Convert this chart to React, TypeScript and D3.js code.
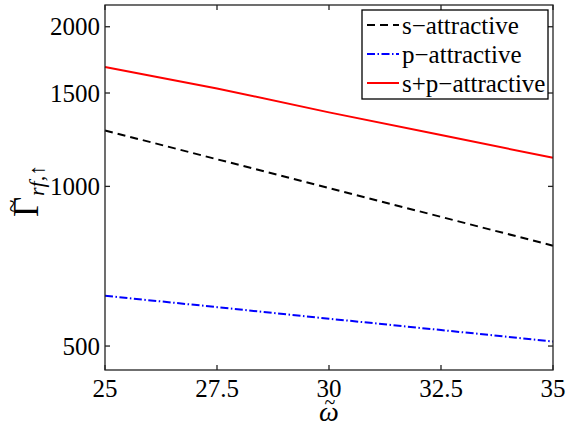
import React from 'react';
import * as d3 from 'd3';

// omega values and the three curves
const omega = [25, 27.5, 30, 32.5, 35];
const sAttractive = [1275, 1125, 993, 876, 773];
const pAttractive = [622, 592, 563, 536, 510];
const spAttractive = [1680, 1530, 1379, 1250, 1132];

const xTicks = [25, 27.5, 30, 32.5, 35];
const yTicks = [500, 1000, 1500, 2000];

const seriesNames = ['s\u2212attractive', 'p\u2212attractive', 's+p\u2212attractive'];

const width = 568;
const height = 427;
const margin = { top: 5, right: 15, bottom: 57, left: 105 };
const font = 'Liberation Serif';

const x = d3.scaleLinear().domain([25, 35]).range([margin.left, width - margin.right]);
const y = d3.scaleLog().domain([450.6, 2198]).range([height - margin.bottom, margin.top]);

const series = [
    { name: seriesNames[0], values: sAttractive, color: '#000000', dash: '8,5' },
    { name: seriesNames[1], values: pAttractive, color: '#0000ff', dash: '8,2.5,1.5,2.5' },
    { name: seriesNames[2], values: spAttractive, color: '#ff0000', dash: undefined },
];

const line = d3
    .line<number>()
    .x((_, i) => x(omega[i]))
    .y(d => y(d));

const App = () => {
    const x0 = margin.left, x1 = width - margin.right;
    const y0 = margin.top, y1 = height - margin.bottom;
    const tl = 5;
    const txt = (size: number, italic = false) => ({
        fontFamily: font,
        fontSize: `${size}px`,
        fontStyle: italic ? 'italic' : 'normal',
    });

    return (
        <svg width={width} height={height} style={{ position: 'absolute', left: 0, top: 0 }}>
            <rect x={0} y={0} width={width} height={height} fill="white" />

            {series.map(s => (
                <path
                    key={s.name}
                    d={line(s.values) || ''}
                    fill="none"
                    stroke={s.color}
                    strokeWidth={2}
                    strokeDasharray={s.dash}
                />
            ))}

            {/* box with inward ticks */}
            <g stroke="#222" strokeWidth={1.3}>
                <rect x={x0} y={y0} width={x1 - x0} height={y1 - y0} fill="none" />
                {xTicks.map(t => (
                    <g key={'xt' + t}>
                        <line x1={x(t)} x2={x(t)} y1={y1} y2={y1 - tl} />
                        <line x1={x(t)} x2={x(t)} y1={y0} y2={y0 + tl} />
                    </g>
                ))}
                {yTicks.map(t => (
                    <g key={'yt' + t}>
                        <line x1={x0} x2={x0 + tl} y1={y(t)} y2={y(t)} />
                        <line x1={x1} x2={x1 - tl} y1={y(t)} y2={y(t)} />
                    </g>
                ))}
            </g>

            {xTicks.map(t => (
                <text key={'xl' + t} x={x(t)} y={y1 + 27} textAnchor="middle" style={txt(25)}>
                    {String(t)}
                </text>
            ))}
            {yTicks.map(t => (
                <text key={'yl' + t} x={x0 - 5} y={y(t) + 8.5} textAnchor="end" style={txt(25)}>
                    {String(t)}
                </text>
            ))}

            {/* x label: omega tilde */}
            <g transform={`translate(${(x0 + x1) / 2},421)`}>
                <text textAnchor="middle" style={txt(28, true)}>{'\u03c9'}</text>
                <text x={1} y={-12} textAnchor="middle" style={txt(20)}>~</text>
            </g>

            {/* y label: Gamma tilde, subscript rf,up */}
            <g transform="translate(38,217) rotate(-90)">
                <text style={txt(35)}>{'\u0393'}</text>
                <text x={11} y={-18} textAnchor="middle" style={txt(24)}>~</text>
                <text x={21} y={6} style={txt(22, true)}>{'rf,\u2191'}</text>
            </g>

            {/* legend */}
            <rect x={362} y={10} width={186} height={89} fill="white" stroke="#000" strokeWidth={1.3} />
            {series.map((s, i) => {
                const cy = 25 + i * 29;
                return (
                    <g key={'lg' + s.name}>
                        <line x1={367} x2={399} y1={cy} y2={cy} stroke={s.color} strokeWidth={2} strokeDasharray={s.dash} />
                        <text x={402} y={cy + 8.5} style={txt(25)}>{s.name}</text>
                    </g>
                );
            })}
        </svg>
    );
};

export default App;
